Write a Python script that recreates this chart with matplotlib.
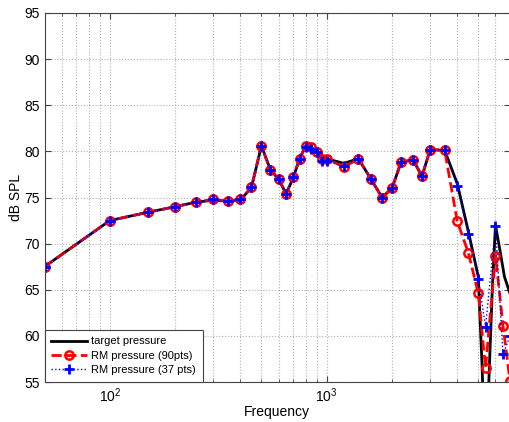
import matplotlib; matplotlib.use('Agg')
import matplotlib.pyplot as plt
from matplotlib.ticker import FixedLocator, NullFormatter

plt.rcParams['font.family'] = ['Liberation Sans', 'DejaVu Sans']
plt.rcParams['font.size'] = 10

# target pressure (black, continuous)
f_target = [50, 100, 150, 200, 250, 300, 350, 400, 450, 500, 550, 600, 650, 700, 750,
            800, 850, 900, 950, 1000, 1200, 1400, 1600, 1800, 2000, 2200, 2500, 2750,
            3000, 3500, 4000, 4500, 5000, 5100, 5200, 5300, 5400, 5500, 5600, 5800,
            6000, 6300, 6600, 7000]
p_target = [67.5, 72.5, 73.4, 74.0, 74.5, 74.7, 74.6, 74.7, 76.1, 80.6, 78.0, 77.0, 75.4,
            77.1, 79.2, 80.6, 80.4, 80.0, 79.1, 79.2, 78.7, 79.2, 77.0, 75.0, 76.0, 78.8,
            79.1, 77.3, 80.2, 80.1, 76.5, 71.3, 66.4, 61.5, 57.0, 51.0, 45.0, 49.0, 55.5,
            65.0, 72.0, 69.2, 66.4, 64.6]

# RM pressure (90pts), red
f_rm90 = [50, 100, 150, 200, 250, 300, 350, 400, 450, 500, 550, 600, 650, 700, 750,
          800, 850, 900, 950, 1000, 1200, 1400, 1600, 1800, 2000, 2200, 2500, 2750,
          3000, 3500, 4000, 4500, 5000, 5400, 6000, 6500, 7000]
p_rm90 = [67.5, 72.5, 73.4, 74.0, 74.5, 74.8, 74.6, 74.8, 76.1, 80.6, 78.0, 77.0, 75.4,
          77.2, 79.2, 80.6, 80.5, 79.9, 79.2, 79.2, 78.3, 79.2, 77.0, 75.0, 76.0, 78.8,
          79.1, 77.3, 80.2, 80.1, 72.4, 69.0, 64.6, 56.5, 68.7, 61.1, 55.1]

# RM pressure (37 pts), blue
f_rm37 = [50, 100, 150, 200, 250, 300, 350, 400, 450, 500, 550, 600, 650, 700, 750,
          800, 850, 900, 950, 1000, 1200, 1400, 1600, 1800, 2000, 2200, 2500, 2750,
          3000, 3500, 4000, 4500, 5000, 5400, 6000, 6500, 7000]
p_rm37 = [67.5, 72.5, 73.4, 74.0, 74.5, 74.8, 74.6, 74.8, 76.1, 80.6, 78.0, 77.0, 75.4,
          77.2, 79.2, 80.5, 80.3, 79.9, 79.0, 79.0, 78.4, 79.2, 77.0, 75.0, 76.0, 78.8,
          79.1, 77.3, 80.2, 80.1, 76.3, 71.0, 66.2, 61.0, 71.9, 58.0, 60.0]

fig = plt.figure(figsize=(5.09, 4.22), dpi=100)
ax = fig.add_axes([44.5/509, 1 - 382/422, (510 - 44.5)/509, (382 - 13)/422])

ax.plot(f_target, p_target, '-', color='black', lw=2, label='target pressure')
ax.plot(f_rm90, p_rm90, '--o', color='red', lw=2, ms=6, mfc='none', mew=1.8,
        label='RM pressure (90pts)')
ax.plot(f_rm37, p_rm37, ':+', color='blue', lw=1, ms=7, mew=2,
        label='RM pressure (37 pts)')

ax.set_xscale('log')
ax.set_xlim(50, 7000)
ax.set_ylim(55, 95)
ax.set_yticks(range(55, 96, 5))
ax.xaxis.set_major_locator(FixedLocator([100, 1000]))
ax.set_xticklabels([r'$\mathregular{10^{2}}$', r'$\mathregular{10^{3}}$'])
ax.xaxis.set_minor_locator(FixedLocator([60, 70, 80, 90] + [k*100 for k in range(2, 10)]
                                        + [k*1000 for k in range(2, 8)]))
ax.xaxis.set_minor_formatter(NullFormatter())
ax.tick_params(which='both', direction='in', top=True, right=True, color='#444444')
ax.tick_params(which='major', length=4)
ax.tick_params(which='minor', length=2)
ax.grid(True, which='both', linestyle=':', color='#b0b0b0', lw=0.8)
for s in ax.spines.values():
    s.set_color('#444444'); s.set_linewidth(0.8)

ax.set_xlabel('Frequency', labelpad=0)
ax.set_ylabel('dB SPL', labelpad=1)
leg = ax.legend(loc='lower left', borderaxespad=0, fancybox=False, framealpha=1,
                edgecolor='#444444', handlelength=3.2, handletextpad=0.4, fontsize=8,
                borderpad=0.6, labelspacing=0.4)
leg.get_frame().set_linewidth(0.8)

plt.savefig('out.png', dpi=100)
